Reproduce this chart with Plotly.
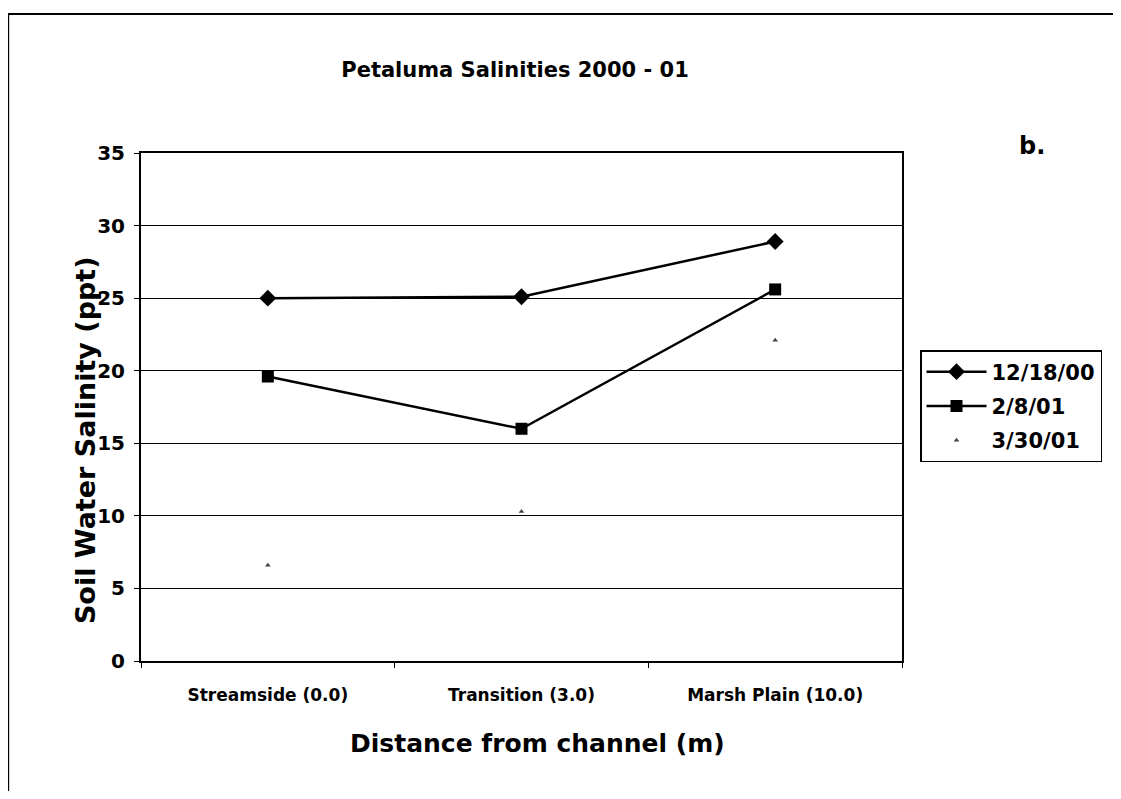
import plotly.graph_objects as go

categories = ["Streamside (0.0)", "Transition (3.0)", "Marsh Plain (10.0)"]
s1_name = "12/18/00"
s1 = [25.0, 25.1, 28.9]
s2_name = "2/8/01"
s2 = [19.6, 16.0, 25.6]
s3_name = "3/30/01"
s3 = [6.6, 10.3, 22.1]
y_ticks = [0, 5, 10, 15, 20, 25, 30, 35]

FONT = "DejaVu Sans"
OFF = 8  # page body margin

# target screen coordinates of the plot area
SL, SR, ST, SB = 141, 903, 153, 661
W, H = 1121 - 2 * OFF, 799 - 2 * OFF
L, T = SL - OFF, ST - OFF
pw, ph = SR - SL, SB - ST
R = W - L - pw
B = H - T - ph

def px(sx):
    return (sx - SL) / pw

def py(sy):
    return (SB - sy) / ph

fig = go.Figure()
fig.add_trace(go.Scatter(x=categories, y=s1, name="<b>" + s1_name + "</b>", mode="lines+markers",
                         legendgroup="a",
                         line=dict(color="black", width=2.5),
                         marker=dict(symbol="diamond", size=13, color="black")))
fig.add_trace(go.Scatter(x=categories, y=s2, name="<b>" + s2_name + "</b>", mode="lines+markers",
                         legendgroup="b",
                         line=dict(color="black", width=2.5),
                         marker=dict(symbol="square", size=12, color="black")))
fig.add_trace(go.Scatter(x=categories, y=s3, name="<b>" + s3_name + "</b>", mode="markers",
                         legendgroup="c",
                         marker=dict(symbol="triangle-up", size=5, color="#444444")))

fig.update_layout(
    width=W, height=H,
    margin=dict(l=L, r=R, t=T, b=B),
    paper_bgcolor="white", plot_bgcolor="white",
    font=dict(family=FONT, color="black"),
    title=dict(text="<b>Petaluma Salinities 2000 - 01</b>", x=(515 - OFF) / W, xanchor="center",
               y=1 - (70 - OFF) / H, yanchor="middle", font=dict(size=21, family=FONT)),
    xaxis=dict(range=[-0.5, 2.5], showgrid=False, showline=True, linecolor="black", linewidth=2,
               mirror=True, ticks="outside", tickson="boundaries", ticklen=5, tickcolor="black",
               tickfont=dict(size=17, family=FONT), ticklabelstandoff=18,
               tickvals=categories, ticktext=["<b>" + c + "</b>" for c in categories]),
    yaxis=dict(range=[0, 35], tickvals=y_ticks, ticktext=["<b>%d</b>" % v for v in y_ticks],
               showgrid=True, gridcolor="black", gridwidth=1,
               showline=True, linecolor="black", linewidth=2, mirror=True, ticks="outside",
               ticklen=5, tickcolor="black", tickfont=dict(size=20, family=FONT),
               ticklabelstandoff=5, zeroline=False),
    legend=dict(x=px(920), y=py(350), xanchor="left", yanchor="top",
                bordercolor="black", borderwidth=1.5, bgcolor="white", itemwidth=60,
                font=dict(size=21, family=FONT), tracegroupgap=4, traceorder="grouped"),
    showlegend=True,
)

fig.add_annotation(text="<b>Distance from channel (m)</b>", xref="paper", yref="paper",
                   x=px(538), y=py(743), xanchor="center", yanchor="middle", showarrow=False,
                   font=dict(size=25, family=FONT))
fig.add_annotation(text="<b>Soil Water Salinity (ppt)</b>", xref="paper", yref="paper",
                   x=px(85), y=py(440), xanchor="center", yanchor="middle", showarrow=False,
                   textangle=-90, font=dict(size=27, family=FONT))
fig.add_annotation(text="<b>b.</b>", xref="paper", yref="paper",
                   x=px(1033), y=py(146), xanchor="center", yanchor="middle", showarrow=False,
                   font=dict(size=24, family=FONT))
fig.add_shape(type="rect", xref="paper", yref="paper",
              x0=px(OFF), x1=px(1140), y0=py(830), y1=py(14),
              line=dict(color="black", width=2))

fig.write_html("out.html")
